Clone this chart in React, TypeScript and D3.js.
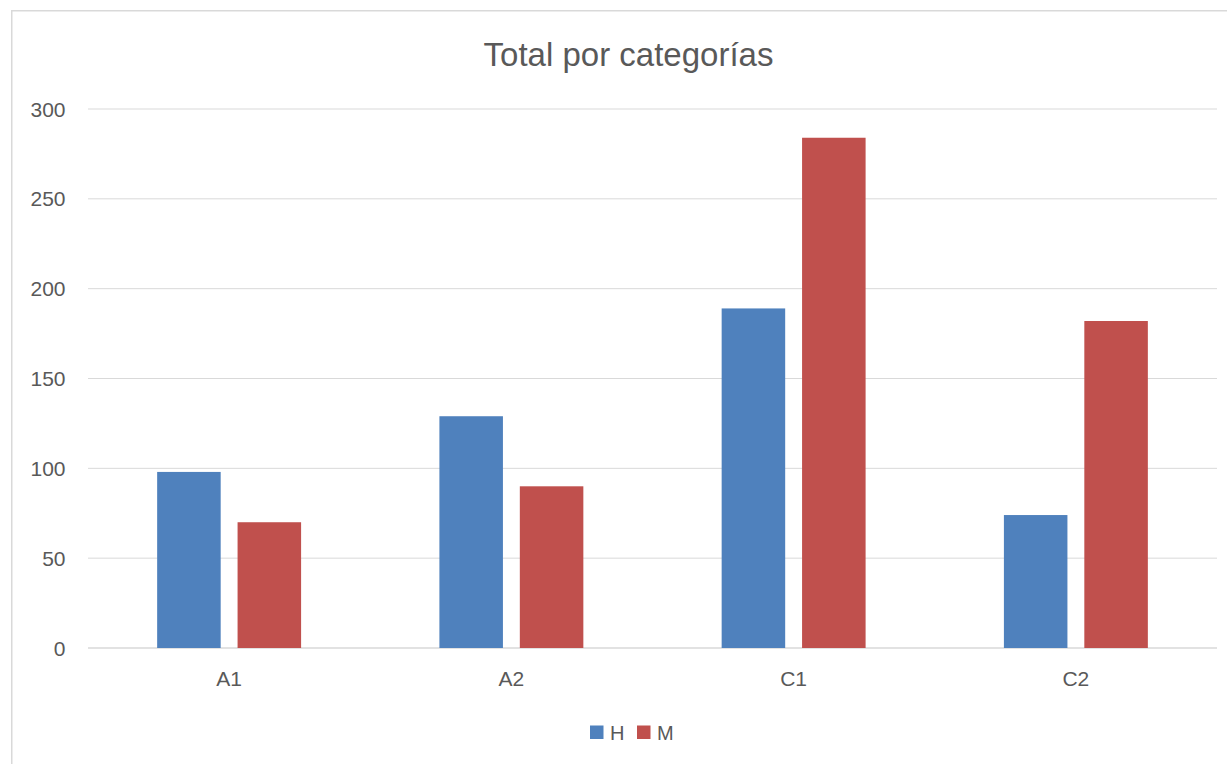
import React from "react";
import * as d3 from "d3";

const categories = ["A1", "A2", "C1", "C2"];
const series = ["H", "M"];
const valuesH = [98, 129, 189, 74];
const valuesM = [70, 90, 284, 182];
const yTicks = [0, 50, 100, 150, 200, 250, 300];

const colors: Record<string, string> = { H: "#4F81BD", M: "#C0504D" };
const textColor = "#595959";
const gridColor = "#D9D9D9";
const font = "'Liberation Sans', Arial, sans-serif";

export default function App() {
  const width = 1227;
  const height = 764;
  const plot = { left: 88, right: 1217, top: 109, bottom: 648 };

  // rows for each category
  const rows = categories.map((c, i) => ({ cat: c, H: valuesH[i], M: valuesM[i] }));

  const x = d3
    .scaleBand()
    .domain(categories)
    .range([plot.left, plot.right])
    .paddingInner(0.49)
    .paddingOuter(0.245);

  const xInner = d3
    .scaleBand()
    .domain(series)
    .range([0, x.bandwidth()])
    .paddingInner(0.21)
    .paddingOuter(0);

  const y = d3.scaleLinear().domain([0, 300]).range([plot.bottom, plot.top]);

  return (
    <svg
      width={width}
      height={height}
      style={{ position: "absolute", left: 0, top: 0, background: "#fff" }}
      fontFamily={font}
    >
      {/* chart border */}
      <rect x={11.75} y={10.75} width={1240} height={780} fill="none" stroke={gridColor} strokeWidth={1.5} />

      <text x={628.5} y={65.5} textAnchor="middle" fontSize={33} fill={textColor}>
        Total por categorías
      </text>

      {/* gridlines + y labels */}
      {yTicks.map((t) => (
        <g key={t}>
          <line
            x1={plot.left}
            x2={plot.right}
            y1={y(t)}
            y2={y(t)}
            stroke={gridColor}
            strokeWidth={t === 0 ? 1.5 : 1}
          />
          <text x={65.5} y={y(t) + 7.5} textAnchor="end" fontSize={21} fill={textColor}>
            {t}
          </text>
        </g>
      ))}

      {/* bars */}
      {rows.map((r) => (
        <g key={r.cat} transform={`translate(${x(r.cat)},0)`}>
          {series.map((s) => (
            <rect
              key={s}
              x={xInner(s)}
              y={y((r as any)[s])}
              width={xInner.bandwidth()}
              height={y(0) - y((r as any)[s])}
              fill={colors[s]}
            />
          ))}
        </g>
      ))}

      {/* x labels */}
      {categories.map((c) => (
        <text
          key={c}
          x={(x(c) as number) + x.bandwidth() / 2}
          y={686}
          textAnchor="middle"
          fontSize={21}
          fill={textColor}
        >
          {c}
        </text>
      ))}

      {/* legend */}
      <g>
        <rect x={590} y={725.5} width={13.5} height={13.5} fill={colors.H} />
        <text x={610} y={739.5} fontSize={20} fill={textColor}>
          H
        </text>
        <rect x={637} y={725.5} width={13.5} height={13.5} fill={colors.M} />
        <text x={657} y={739.5} fontSize={20} fill={textColor}>
          M
        </text>
      </g>
    </svg>
  );
}
